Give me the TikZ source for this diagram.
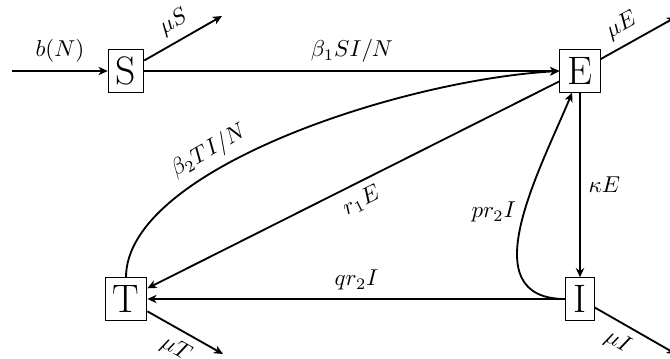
\documentclass[tikz,border=0pt]{standalone}
\usetikzlibrary{arrows.meta}
\begin{document}
\begin{tikzpicture}[x=0.435pt,y=-0.435pt,
  box/.style={draw, line width=0.4pt, font=\LARGE, inner sep=0.3333em},
  arr/.style={thick, -{Stealth[length=4pt,width=3.6pt,inset=1.2pt]}}]
\clip (0,0) rectangle (670,358);
\node[box] (S) at (126,71) {S};
\node[box] (E) at (580,71) {E};
\node[box] (T) at (126,299) {T};
\node[box] (I) at (580,299) {I};
\coordinate (inS) at (12,71);
\coordinate (muSend) at (222,16);
\coordinate (muEend) at (676,17);
\coordinate (muTend) at (223,354);
\coordinate (muIend) at (676,354);
\draw[arr] (inS) -- node[above] {$b(N)$} (S);
\draw[arr] (S.30) -- node[above, sloped] {$\mu S$} (muSend);
\draw[arr] (E.30) -- node[above, sloped, pos=0.4] {$\mu E$} (muEend);
\draw[arr] (T.-30) -- node[below, sloped] {$\mu T$} (muTend);
\draw[arr] (I.-30) -- node[below, sloped, pos=0.4] {$\mu I$} (muIend);
\draw[arr] (S) -- node[above] {$\beta_1SI/N$} (E);
\draw[arr] (E) -- node[right] {$\kappa E$} (I);
\draw[arr] (I) -- node[above] {$qr_2I$} (T);
\draw[arr] (E) -- node[below, sloped] {$r_1E$} (T);
\draw[arr] (I.west) .. controls (470,299) and (540,170) .. node[pos=0.55, left] {$pr_2I$} (E.250);
\draw[arr] (T.north) .. controls (126,170) and (400,80) .. node[pos=0.37, above, sloped] {$\beta_2TI/N$} (E.west);
\end{tikzpicture}
\end{document}
